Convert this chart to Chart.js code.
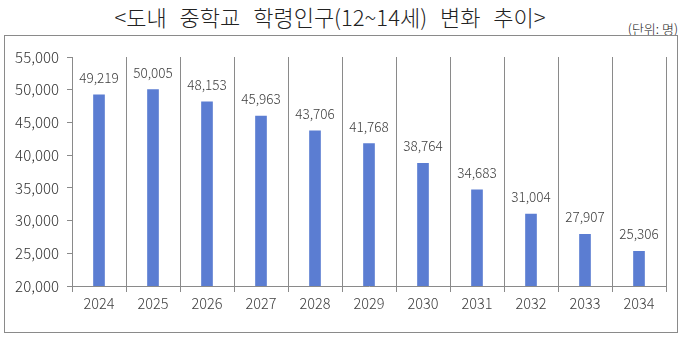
<!DOCTYPE html>
<html>
<head>
<meta charset="utf-8">
<title>도내 중학교 학령인구 변화 추이</title>
<script src="https://cdn.jsdelivr.net/npm/chart.js@4.4.1/dist/chart.umd.min.js"></script>
<style>
  html, body { margin: 0; padding: 0; background: #fff; }
  #wrap { position: relative; width: 682px; height: 338px; overflow: hidden; }
  #title { position: absolute; left: 0; width: 660px; top: 0px; text-align: center; word-spacing: 8px;
           font-family: "Noto Sans CJK KR", sans-serif; font-size: 22px; font-weight: 300; color: #222; }
  #unit { position: absolute; right: 4px; top: 19px; font-family: "Noto Sans CJK KR", sans-serif;
          font-size: 13px; font-weight: 300; color: #222; }
  #box { position: absolute; left: 4px; top: 35px; width: 674px; height: 298px; border: 1px solid #8a8a8a; box-sizing: border-box; }
  #cv { position: absolute; left: 0; top: 0; }
</style>
</head>
<body>
<div id="wrap">
  <div id="title">&lt;도내 중학교 학령인구(12~14세) 변화 추이&gt;</div>
  <div id="unit">(단위: 명)</div>
  <div id="box"></div>
  <canvas id="cv" width="682" height="338"></canvas>
</div>

<script>
// data
const years = ['2024', '2025', '2026', '2027', '2028', '2029', '2030', '2031', '2032', '2033', '2034'];
const students = [49219, 50005, 48153, 45963, 43706, 41768, 38764, 34683, 31004, 27907, 25306];
const yMin = 20000;
const yMax = 55000;
const yStep = 5000;

// write value above each bar
const valueLabels = {
    id: 'valueLabels',
    afterDatasetsDraw(chart) {
        const ctx = chart.ctx;
        const meta = chart.getDatasetMeta(0);
        ctx.save();
        ctx.font = '300 13.5px "Noto Sans CJK KR", sans-serif';
        ctx.fillStyle = '#404040';
        ctx.textAlign = 'center';
        ctx.textBaseline = 'middle';
        meta.data.forEach((bar, i) => {
            ctx.fillText(students[i].toLocaleString('en-US'), bar.x, bar.y - 17);
        });
        ctx.restore();
    }
};

new Chart(document.getElementById('cv'), {
    type: 'bar',
    data: {
        labels: years,
        datasets: [{
            data: students,
            backgroundColor: '#5b7dd2',
            barThickness: 11
        }]
    },
    options: {
        responsive: false,
        animation: false,
        layout: { padding: { left: 0, top: 57, right: 16, bottom: 0 } },
        plugins: { legend: { display: false }, tooltip: { enabled: false } },
        scales: {
            x: {
                offset: true,
                grid: { offset: true, color: '#8a8a8a', lineWidth: 1, tickLength: 6, drawTicks: true },
                border: { color: '#8a8a8a' },
                ticks: { color: '#404040', padding: 3, font: { family: '"Noto Sans CJK KR", sans-serif', size: 14.5, weight: 300 } },
                afterFit(scale) { scale.height = 52; }
            },
            y: {
                min: yMin,
                max: yMax,
                grid: { drawOnChartArea: false, drawTicks: true, tickLength: 5, color: '#8a8a8a' },
                border: { color: '#8a8a8a' },
                ticks: {
                    stepSize: yStep,
                    color: '#333',
                    padding: 8,
                    font: { family: '"Noto Sans CJK KR", sans-serif', size: 15, weight: 300 },
                    callback: v => v.toLocaleString('en-US')
                },
                afterFit(scale) { scale.width = 72; }
            }
        }
    },
    plugins: [valueLabels]
});
</script>
</body>
</html>
